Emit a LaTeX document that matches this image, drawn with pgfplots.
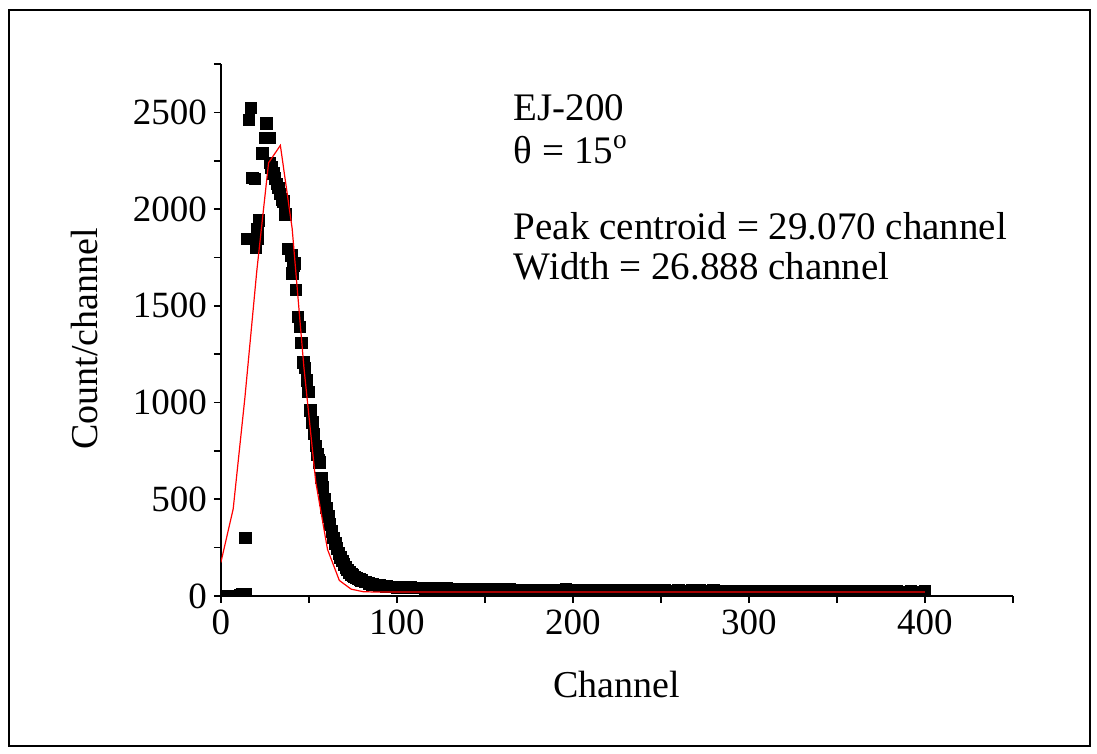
\documentclass[border=0pt]{standalone}
\usepackage{fontspec}
\setmainfont{Liberation Serif}
\usepackage{pgfplots}
\pgfplotsset{compat=1.18}

\begin{document}
\begin{tikzpicture}[x=1pt,y=1pt]
\useasboundingbox (0,0) rectangle (548.5,-377);
\draw[line width=1pt] (4.5,-5) rectangle (545,-373);
\begin{axis}[
  at={(125.5,-308.2)}, anchor=origin, scale only axis,
  width=396pt, height=265.85pt,
  xmin=0, xmax=450, ymin=0, ymax=2750,
  axis lines=left, axis line style={line width=0.9pt,-},
  xtick={0,100,...,400}, minor xtick={50,150,250,350,450},
  ytick={0,500,...,2500}, minor ytick={250,750,...,2750},
  tick align=outside, major tick length=3.5pt, minor tick length=3.5pt,
  tick style={line width=0.9pt, black},
  every tick label/.append style={font=\fontsize{18.5}{22}\selectfont},
  /pgf/number format/assume math mode=true,
  /pgf/number format/1000 sep={},
  xlabel={Channel}, ylabel={Count/channel},
  label style={font=\fontsize{19}{23}\selectfont},
  xlabel style={at={(axis description cs:0.5,-0.166)}, anchor=center},
  ylabel style={at={(axis description cs:-0.172,0.483)}, anchor=center},
  clip marker paths=true,
]
% measured spectrum
\addplot[only marks, mark=square*, mark size=2.9pt, black] coordinates {
  (0,0) (1,0) (2,1) (3,0) (4,0) (5,1) (6,0) (7,0) (8,1) (9,0) (10,0) (11,2)
  (12,7) (13,7) (14,8) (14.0,299)
  (14.7,1846) (16.0,2462) (17.0,2524) (17.9,2162) (19.4,2157) (19.8,1803)
  (20.8,1898) (21.0,1846) (21.7,1941) (23.6,2290) (25.1,2368) (25.9,2445)
  (27.9,2368) (27.8,2240) (28.8,2215) (29.8,2185) (30.8,2160) (31.8,2130)
  (32.7,2110) (33.6,2080) (34.6,2050) (35.5,2040) (36.8,1972) (38.0,1795)
  (40.2,1760) (41.8,1720) (41.2,1708) (40.8,1669) (42.7,1582) (43.7,1444)
  (45.0,1392) (45.9,1308) (46.9,1208) (47.8,1179) (48.8,1116) (49.7,1056)
  (51.0,958) (52.0,897) (52.9,837) (53.9,776) (54.8,733) (55.7,702)
  (56,690) (57,610) (58,560) (59,500) (60,455) (61,410) (62,370) (63,335)
  (64,300) (65,270) (66,245) (67,220) (68,200) (69,180) (70,163) (71,148)
  (72,135) (73,122) (74,112) (75,105)
  (76,99) (77,93) (78,88) (79,84) (80,79) (82,72) (84,66) (86,61) (88,57)
  (90,54) (92,51) (94,49) (96,47) (98,46) (100,45) (104,44) (108,43) (112,42)
  (116,40) (120,39) (124,38) (128,38) (132,37) (136,36) (140,36) (144,35)
  (148,35) (152,34) (156,33) (160,34) (164,33) (168,32) (172,32) (176,31)
  (180,32) (184,31) (188,30) (192,31) (196,33) (200,31) (204,30) (208,32)
  (212,30) (216,29) (220,30) (224,28) (228,29) (232,28) (236,27) (240,28)
  (244,27) (248,28) (252,27) (256,26) (260,27) (264,26) (268,27) (272,28)
  (276,26) (280,27) (284,26) (288,25) (292,26) (296,25) (300,26) (304,25)
  (308,24) (312,25) (316,24) (320,25) (324,24) (328,23) (332,24) (336,23)
  (340,24) (344,25) (348,23) (352,24) (356,23) (360,22) (364,23) (368,22)
  (372,23) (376,22) (380,23) (384,22) (388,21) (392,22) (396,21) (400,22)
};
% gaussian fit
\addplot[red, line width=0.6pt, no marks] coordinates {
  (0,173) (7.0,450) (13.7,1030) (20.4,1680) (27.1,2240) (33.8,2330)
  (40.5,1900) (47.2,1180) (53.9,590) (60.6,240) (67.3,80) (74.0,35)
  (80.7,22) (87.4,20) (400,20)
};
\node[anchor=base west, font=\fontsize{19.5}{23}\selectfont] at (axis cs:162.5,2460) {EJ-200};
\node[anchor=base west, font=\fontsize{19.5}{23}\selectfont] at (axis cs:162.5,2235) {θ = 15\textsuperscript{o}};
\node[anchor=base west, font=\fontsize{19.5}{23}\selectfont] at (axis cs:162.5,1841) {Peak centroid = 29.070 channel};
\node[anchor=base west, font=\fontsize{19.5}{23}\selectfont] at (axis cs:162.5,1634) {Width = 26.888 channel};
\end{axis}
\end{tikzpicture}
\end{document}
